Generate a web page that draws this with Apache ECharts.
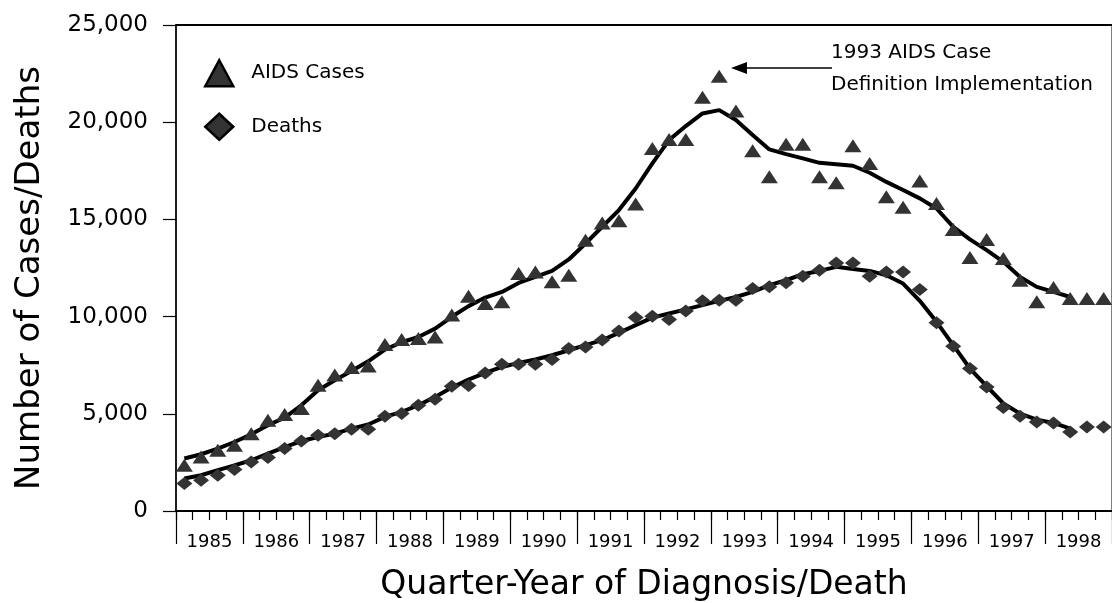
<!DOCTYPE html>
<html>
<head>
<meta charset="utf-8">
<script src="https://cdn.jsdelivr.net/npm/echarts/dist/echarts.min.js"></script>
<style>
html,body{margin:0;padding:0;background:#fff;}
#chart{width:1112px;height:603px;}
</style>
</head>
<body>
<div id="chart"></div>
<script>
// ---- data ----
const years = ['1985','1986','1987','1988','1989','1990','1991','1992','1993','1994','1995','1996','1997','1998'];
const quarters = ['Q1','Q2','Q3','Q4'];

const aidsCases = [
  2350, 2780, 3120, 3380,
  3980, 4670, 4960, 5270,
  6470, 6990, 7380, 7460,
  8570, 8820, 8870, 8950,
  10080, 11050, 10670, 10760,
  12220, 12300, 11790, 12130,
  13930, 14820, 14930, 15790,
  18650, 19110, 19110, 21280,
  22370, 20570, 18530, 17190,
  18870, 18870, 17190, 16880,
  18790, 17880, 16160, 15620,
  16970, 15820, 14480, 13040,
  13970, 12990, 11870, 10760,
  11500, 10930, 10930, 10930
];
const deaths = [
  1410, 1580, 1840, 2130,
  2520, 2750, 3210, 3600,
  3900, 3980, 4200, 4200,
  4870, 5010, 5440, 5750,
  6420, 6450, 7100, 7550,
  7550, 7550, 7790, 8360,
  8440, 8790, 9260, 9950,
  10020, 9850, 10290, 10810,
  10840, 10840, 11450, 11530,
  11740, 12080, 12390, 12760,
  12760, 12080, 12300, 12300,
  11400, 9680, 8480, 7330,
  6380, 5320, 4870, 4580,
  4530, 4070, 4320, 4320
];
const aidsTrend = [
  2700, 2920, 3210, 3550,
  3950, 4410, 4800, 5440,
  6210, 6730, 7200, 7700,
  8300, 8680, 8950, 9380,
  9990, 10540, 10980, 11270,
  11730, 12040, 12350, 12940,
  13760, 14620, 15480, 16590,
  17880, 19080, 19800, 20450,
  20620, 20110, 19340, 18600,
  18360, 18140, 17910, 17840,
  17760, 17400, 16930, 16510,
  16080, 15560, 14620, 13970,
  13420, 12820, 12040, 11530,
  11270, 11010, null, null
];
const deathsTrend = [
  1670, 1840, 2100, 2350,
  2610, 2950, 3290, 3600,
  3810, 3980, 4240, 4450,
  4840, 5100, 5440, 5870,
  6350, 6760, 7100, 7410,
  7620, 7790, 8010, 8270,
  8530, 8790, 9160, 9560,
  9950, 10160, 10370, 10590,
  10810, 11010, 11270, 11620,
  11870, 12180, 12350, 12560,
  12450, 12350, 12130, 11700,
  10810, 9730, 8530, 7330,
  6420, 5530, 5010, 4700,
  4530, 4240, null, null
];
const yMin = 0, yMax = 25000, yInterval = 5000;
const eventYear = '1993';
const annotationLines = ['1993 AIDS Case', 'Definition Implementation'];
const seriesNames = ['AIDS Cases', 'Deaths'];

// ---- chart ----
const quarterCats = years.flatMap(y => quarters.map(q => y + ' ' + q));
const FONT = 'DejaVu Sans';
const chart = echarts.init(document.getElementById('chart'), null, {renderer: 'canvas'});

const option = {
  animation: false,
  backgroundColor: '#fff',
  grid: {left: 176, right: 0, top: 25, bottom: 92, containLabel: false, outerBoundsMode: 'none'},
  legend: {
    orient: 'vertical', left: 199, top: 54,
    itemWidth: 28, itemHeight: 26, itemGap: 25,
    textStyle: {fontFamily: FONT, fontSize: 20, color: '#000', padding: [0, 0, 0, 13]},
    data: [
      {name: seriesNames[0], icon: 'triangle', itemStyle: {color: '#333', borderColor: '#000', borderWidth: 2.5}},
      {name: seriesNames[1], icon: 'diamond', itemStyle: {color: '#333', borderColor: '#000', borderWidth: 2.5}}
    ]
  },
  xAxis: [
    {
      type: 'category', position: 'bottom', data: quarterCats, boundaryGap: true,
      axisLine: {show: true, lineStyle: {color: '#000', width: 2}},
      axisTick: {show: true, interval: 0, length: 9, lineStyle: {color: '#000', width: 1.2}},
      axisLabel: {show: false},
      splitLine: {show: false},
      name: 'Quarter-Year of Diagnosis/Death', nameLocation: 'middle', nameGap: 58,
      nameTextStyle: {fontFamily: FONT, fontSize: 33, color: '#000'}
    },
    {
      type: 'category', position: 'bottom', data: years, boundaryGap: true,
      axisLine: {show: false},
      axisTick: {show: true, interval: 0, length: 33, lineStyle: {color: '#000', width: 1.2}},
      axisLabel: {show: true, interval: 0, margin: 22, fontFamily: FONT, fontSize: 18, color: '#000'},
      splitLine: {show: true, interval: (i, v) => v === eventYear, lineStyle: {color: '#555', width: 1.5}}
    },
    {
      type: 'value', position: 'top',
      axisLine: {show: true, onZero: false, lineStyle: {color: '#000', width: 2}},
      axisTick: {show: false}, axisLabel: {show: false}, splitLine: {show: false}
    }
  ],
  yAxis: {
    type: 'value', min: yMin, max: yMax, interval: yInterval,
    axisLine: {show: true, lineStyle: {color: '#000', width: 1.5}},
    axisTick: {show: true, inside: false, length: 13, lineStyle: {color: '#000', width: 1.2}},
    axisLabel: {margin: 28, fontFamily: FONT, fontSize: 23, color: '#000',
      formatter: v => v.toLocaleString('en-US')},
    splitLine: {show: false},
    name: 'Number of Cases/Deaths', nameLocation: 'middle', nameRotate: 90, nameGap: 129,
    nameTextStyle: {fontFamily: FONT, fontSize: 34, color: '#000', padding: [0, 20, 0, 0]}
  },
  series: [
    {name: 'AIDS Cases trend', type: 'line', xAxisIndex: 0, data: aidsTrend, symbol: 'none',
      lineStyle: {color: '#000', width: 4}, z: 2, silent: true},
    {name: 'Deaths trend', type: 'line', xAxisIndex: 0, data: deathsTrend, symbol: 'none',
      lineStyle: {color: '#000', width: 4}, z: 2, silent: true},
    {name: seriesNames[0], type: 'scatter', xAxisIndex: 0, data: aidsCases, symbol: 'triangle',
      symbolSize: [17, 13], itemStyle: {color: '#333', opacity: 1}, z: 3},
    {name: seriesNames[1], type: 'scatter', xAxisIndex: 0, data: deaths, symbol: 'diamond',
      symbolSize: [16, 13], itemStyle: {color: '#333', opacity: 1}, z: 3}
  ],
  graphic: [
    {type: 'line', shape: {x1: 832, y1: 68, x2: 745, y2: 68}, style: {stroke: '#000', lineWidth: 1.5}, z: 10},
    {type: 'polygon', shape: {points: [[731, 68], [747, 62], [747, 74]]}, style: {fill: '#000'}, z: 10},
    {type: 'text', left: 831, top: 37, z: 10,
      style: {text: annotationLines.join('\n'), fontFamily: FONT, fontSize: 20, lineHeight: 32, fill: '#000'}}
  ]
};
chart.setOption(option);
</script>
</body>
</html>
